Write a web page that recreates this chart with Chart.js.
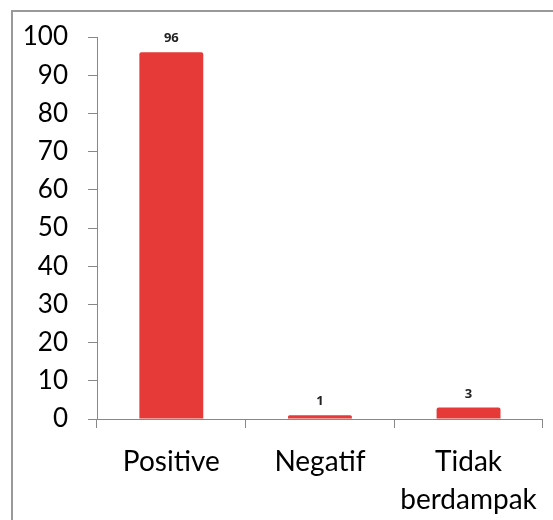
<!DOCTYPE html>
<html>
<head>
<meta charset="utf-8">
<script src="https://cdn.jsdelivr.net/npm/chart.js@4/dist/chart.umd.min.js"></script>
<style>
  html, body { margin: 0; padding: 0; background: #fff; overflow: hidden; }
  #frame { position: absolute; left: 11px; top: 10px; width: 600px; height: 600px; border: 2px solid #999; box-sizing: border-box; }
  #wrap { position: absolute; left: 0; top: 0; width: 553px; height: 520px; }
</style>
</head>
<body>
<div id="frame"></div>
<div id="wrap"><canvas id="chart"></canvas></div>
<script>
// Categories and values
const categories = ["Positive", "Negatif", ["Tidak", "berdampak"]];
const values = [96, 1, 3];
const yTicks = [0, 10, 20, 30, 40, 50, 60, 70, 80, 90, 100];

// Small plugin that writes the value above each bar
const valueLabels = {
  id: "valueLabels",
  afterDatasetsDraw(chart) {
    const ctx = chart.ctx;
    const meta = chart.getDatasetMeta(0);
    ctx.save();
    ctx.font = "bold 13px 'Open Sans', sans-serif";
    ctx.fillStyle = "#222";
    ctx.textAlign = "center";
    ctx.textBaseline = "bottom";
    meta.data.forEach((bar, i) => {
      ctx.fillText(String(values[i]), bar.x, bar.y - 7);
    });
    ctx.restore();
  }
};

new Chart(document.getElementById("chart"), {
  type: "bar",
  data: {
    labels: categories,
    datasets: [{
      data: values,
      backgroundColor: "#E53A37",
      borderRadius: { topLeft: 2, topRight: 2 },
      borderSkipped: "bottom",
      categoryPercentage: 1,
      barPercentage: 0.43
    }]
  },
  options: {
    responsive: true,
    maintainAspectRatio: false,
    animation: false,
    layout: { padding: { top: 37, right: 7, left: 0, bottom: 0 } },
    plugins: { legend: { display: false }, tooltip: { enabled: false } },
    scales: {
      y: {
        min: 0,
        max: 100,
        afterFit: (s) => { s.width = 97; },
        afterBuildTicks: (s) => { s.ticks = yTicks.map(v => ({ value: v })); },
        ticks: {
          padding: 20,
          color: "#000",
          font: { family: "Lato", size: 26 }
        },
        grid: { drawOnChartArea: false, tickLength: 9, color: "#888", lineWidth: 1 },
        border: { color: "#888", width: 1 }
      },
      x: {
        afterFit: (s) => { s.height = 101; },
        ticks: {
          padding: 15,
          color: "#000",
          maxRotation: 0,
          autoSkip: false,
          font: { family: "Lato", size: 28, lineHeight: 1.35 }
        },
        grid: { drawOnChartArea: false, tickLength: 9, color: "#888", offset: true },
        border: { color: "#888", width: 1 }
      }
    }
  },
  plugins: [valueLabels]
});
</script>
</body>
</html>
